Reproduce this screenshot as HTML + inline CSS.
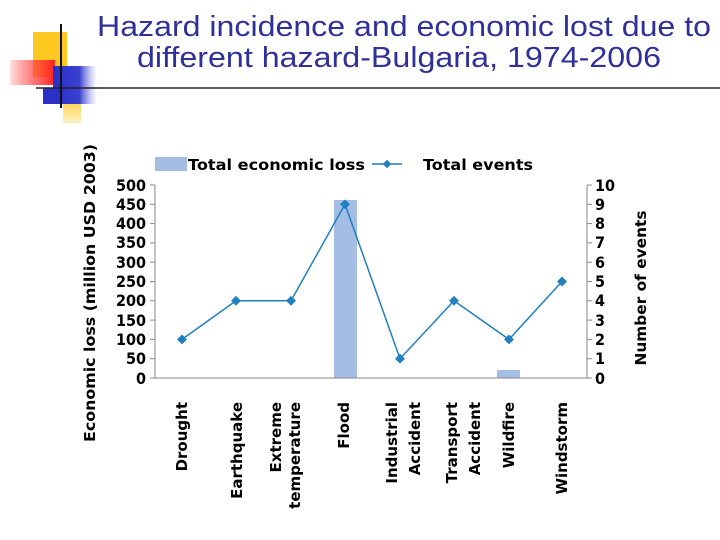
<!DOCTYPE html>
<html><head><meta charset="utf-8"><style>
html,body{margin:0;padding:0;background:#fff;width:720px;height:540px;overflow:hidden}
</style></head><body>
<svg width="720" height="540" viewBox="0 0 720 540" xmlns="http://www.w3.org/2000/svg" font-family="DejaVu Sans, Liberation Sans, sans-serif">
<defs>
<linearGradient id="rg" x1="0" x2="1"><stop offset="0" stop-color="#ff3030" stop-opacity="0.15"/><stop offset="0.5" stop-color="#ff4040" stop-opacity="0.7"/><stop offset="1" stop-color="#ff2020"/></linearGradient>
<linearGradient id="bg" x1="0" x2="1"><stop offset="0" stop-color="#2a30c8"/><stop offset="0.6" stop-color="#3a40d0"/><stop offset="1" stop-color="#8a90e8" stop-opacity="0"/></linearGradient>
<linearGradient id="yg" x1="0" y1="0" x2="0" y2="1"><stop offset="0" stop-color="#ffc820"/><stop offset="1" stop-color="#ffd860" stop-opacity="0.4"/></linearGradient>
</defs>
<rect x="33" y="32" width="34" height="45" fill="#ffc820"/>
<rect x="63" y="95" width="18" height="28" fill="url(#yg)"/>
<rect x="10" y="60" width="45" height="25" fill="url(#rg)"/>
<rect x="53" y="66" width="44" height="38" fill="url(#bg)"/>
<rect x="43" y="88" width="20" height="16" fill="#2a30c8"/>
<line x1="36" y1="88" x2="720" y2="88" stroke="#222" stroke-width="1.5"/>
<line x1="61" y1="24" x2="61" y2="108" stroke="#111" stroke-width="2"/>
<g font-family="Liberation Sans, sans-serif" font-size="29" fill="#30309a">
<text x="97" y="36" textLength="614" lengthAdjust="spacingAndGlyphs">Hazard incidence and economic lost due to</text>
<text x="137" y="67" textLength="524" lengthAdjust="spacingAndGlyphs">different hazard-Bulgaria, 1974-2006</text>
</g>

<rect x="155" y="157" width="32" height="14" fill="#a3bde5"/>
<text x="188" y="170" font-size="15" font-weight="bold" textLength="177" lengthAdjust="spacingAndGlyphs">Total economic loss</text>
<line x1="372" y1="164" x2="402" y2="164" stroke="#1f7fbf" stroke-width="1.5"/>
<rect x="384" y="161" width="6" height="6" fill="#1f7fbf" transform="rotate(45 387 164)"/>
<text x="423" y="170" font-size="15" font-weight="bold" textLength="110" lengthAdjust="spacingAndGlyphs">Total events</text>

<rect x="334" y="200" width="23" height="178" fill="#a3bde5"/>
<rect x="497" y="370" width="23" height="8" fill="#a3bde5"/>

<g stroke="#888" stroke-width="1">
<line x1="155" y1="185" x2="155" y2="378"/>
<line x1="155" y1="378" x2="587" y2="378"/>
<line x1="587" y1="185" x2="587" y2="378"/>
</g>
<g stroke="#888" stroke-width="1">
<line x1="150" y1="185" x2="155" y2="185"/><line x1="150" y1="204.3" x2="155" y2="204.3"/><line x1="150" y1="223.6" x2="155" y2="223.6"/><line x1="150" y1="242.9" x2="155" y2="242.9"/><line x1="150" y1="262.2" x2="155" y2="262.2"/><line x1="150" y1="281.5" x2="155" y2="281.5"/><line x1="150" y1="300.8" x2="155" y2="300.8"/><line x1="150" y1="320.1" x2="155" y2="320.1"/><line x1="150" y1="339.4" x2="155" y2="339.4"/><line x1="150" y1="358.7" x2="155" y2="358.7"/><line x1="150" y1="378" x2="155" y2="378"/>
<line x1="587" y1="185" x2="592" y2="185"/><line x1="587" y1="204.3" x2="592" y2="204.3"/><line x1="587" y1="223.6" x2="592" y2="223.6"/><line x1="587" y1="242.9" x2="592" y2="242.9"/><line x1="587" y1="262.2" x2="592" y2="262.2"/><line x1="587" y1="281.5" x2="592" y2="281.5"/><line x1="587" y1="300.8" x2="592" y2="300.8"/><line x1="587" y1="320.1" x2="592" y2="320.1"/><line x1="587" y1="339.4" x2="592" y2="339.4"/><line x1="587" y1="358.7" x2="592" y2="358.7"/><line x1="587" y1="378" x2="592" y2="378"/>
</g>
<g font-size="16" text-anchor="end" font-weight="bold" font-family="DejaVu Sans Condensed, DejaVu Sans, sans-serif">
<text x="146" y="191">500</text><text x="146" y="210">450</text><text x="146" y="229">400</text><text x="146" y="248">350</text><text x="146" y="268">300</text><text x="146" y="287">250</text><text x="146" y="306">200</text><text x="146" y="326">150</text><text x="146" y="345">100</text><text x="146" y="364">50</text><text x="146" y="384">0</text>
</g>
<g font-size="16" font-weight="bold" font-family="DejaVu Sans Condensed, DejaVu Sans, sans-serif">
<text x="595" y="191">10</text><text x="595" y="210">9</text><text x="595" y="229">8</text><text x="595" y="248">7</text><text x="595" y="268">6</text><text x="595" y="287">5</text><text x="595" y="306">4</text><text x="595" y="326">3</text><text x="595" y="345">2</text><text x="595" y="364">1</text><text x="595" y="384">0</text>
</g>
<text transform="translate(95,293) rotate(-90)" font-size="15" font-weight="bold" text-anchor="middle" textLength="298" lengthAdjust="spacingAndGlyphs">Economic loss (million USD 2003)</text>
<text transform="translate(646,288) rotate(-90)" font-size="15" font-weight="bold" text-anchor="middle" textLength="155" lengthAdjust="spacingAndGlyphs">Number of events</text>

<polyline fill="none" stroke="#1f7fbf" stroke-width="1.5" points="182,339.4 236,300.8 291,300.8 345,204.3 400,358.7 454,300.8 509,339.4 562,281.5"/>
<g fill="#1f7fbf">
<rect x="178.5" y="335.9" width="7" height="7" transform="rotate(45 182 339.4)"/>
<rect x="232.5" y="297.3" width="7" height="7" transform="rotate(45 236 300.8)"/>
<rect x="287.5" y="297.3" width="7" height="7" transform="rotate(45 291 300.8)"/>
<rect x="341.5" y="200.8" width="7" height="7" transform="rotate(45 345 204.3)"/>
<rect x="396.5" y="355.2" width="7" height="7" transform="rotate(45 400 358.7)"/>
<rect x="450.5" y="297.3" width="7" height="7" transform="rotate(45 454 300.8)"/>
<rect x="505.5" y="335.9" width="7" height="7" transform="rotate(45 509 339.4)"/>
<rect x="558.5" y="278" width="7" height="7" transform="rotate(45 562 281.5)"/>
</g>
<g font-size="15" font-weight="bold" text-anchor="end">
<text transform="translate(187,402) rotate(-90)">Drought</text>
<text transform="translate(242,402) rotate(-90)">Earthquake</text>
<text transform="translate(281,402) rotate(-90)">Extreme</text>
<text transform="translate(300,402) rotate(-90)">temperature</text>
<text transform="translate(349,402) rotate(-90)">Flood</text>
<text transform="translate(397,402) rotate(-90)">Industrial</text>
<text transform="translate(420,402) rotate(-90)">Accident</text>
<text transform="translate(457,402) rotate(-90)">Transport</text>
<text transform="translate(480,402) rotate(-90)">Accident</text>
<text transform="translate(514,402) rotate(-90)">Wildfire</text>
<text transform="translate(567,402) rotate(-90)">Windstorm</text>
</g>
</svg>
</body></html>
